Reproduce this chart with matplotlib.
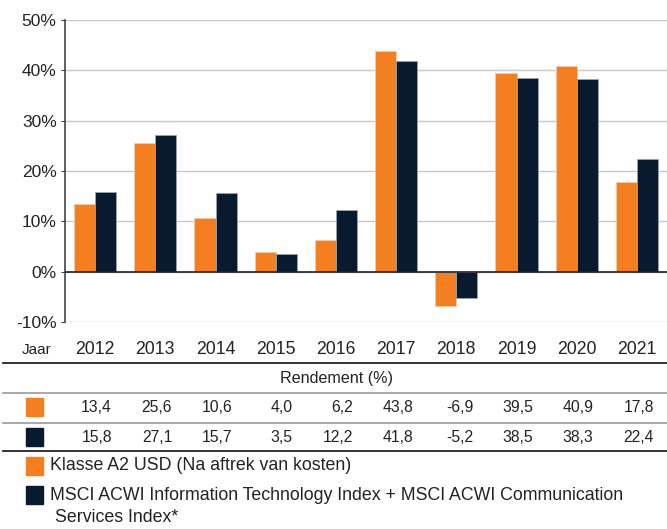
import numpy as np
import matplotlib.pyplot as plt
from matplotlib.transforms import blended_transform_factory
from matplotlib.lines import Line2D
from matplotlib.patches import Rectangle

plt.rcParams['font.family'] = ['Liberation Sans', 'DejaVu Sans']

# Gegevens
jaren = ['2012', '2013', '2014', '2015', '2016', '2017', '2018', '2019', '2020', '2021']
klasse_a2 = [13.4, 25.6, 10.6, 4.0, 6.2, 43.8, -6.9, 39.5, 40.9, 17.8]
msci_index = [15.8, 27.1, 15.7, 3.5, 12.2, 41.8, -5.2, 38.5, 38.3, 22.4]
y_ticks = [-10, 0, 10, 20, 30, 40, 50]
naam_a2 = 'Klasse A2 USD (Na aftrek van kosten)'
naam_msci = ['MSCI ACWI Information Technology Index + MSCI ACWI Communication',
             'Services Index*']

oranje = '#F47F20'
navy = '#0A1A2E'
W, H = 667, 529

fig = plt.figure(figsize=(W / 100, H / 100), dpi=100)
ax = fig.add_axes([65 / W, 1 - 322 / H, 602 / W, 302 / H])

x = np.arange(len(jaren))
bw = 0.35
ax.bar(x - bw / 2, klasse_a2, bw, color=oranje, edgecolor='#f9c9a0', linewidth=0.6, zorder=3)
ax.bar(x + bw / 2, msci_index, bw, color=navy, edgecolor='#9aa3ad', linewidth=0.6, zorder=3)

ax.set_xlim(-0.5, len(jaren) - 0.5)
ax.set_ylim(-10, 50)
ax.set_yticks(y_ticks)
ax.set_yticklabels([f'{v}%' for v in y_ticks], fontsize=12.5, color='#222222')
ax.set_xticks([])
ax.grid(axis='y', color='#c8c8c8', linewidth=1, zorder=0)
ax.axhline(0, color='#222222', linewidth=1.2, zorder=4)
for s in ['top', 'right', 'bottom']:
    ax.spines[s].set_visible(False)
ax.spines['left'].set_color('#444444')
ax.spines['left'].set_linewidth(1.2)
ax.tick_params(axis='y', length=3, color='#444444', pad=3)

# Tabel onder de grafiek
tr = blended_transform_factory(ax.transData, fig.transFigure)

def fy(py):
    return 1 - py / H

fig.text(22 / W, fy(350), 'Jaar', fontsize=11, color='#222222', va='center', ha='left')
for i, j in enumerate(jaren):
    ax.text(i, fy(350), j, transform=tr, fontsize=12.7, color='#222222', ha='center', va='center')

for py, kleur in [(363, '#111111'), (393, '#999999'), (423, '#999999'), (451, '#111111')]:
    fig.add_artist(Line2D([3 / W, 1], [fy(py), fy(py)], color=kleur, linewidth=1.2, transform=fig.transFigure))

fig.text(336 / W, fy(379), 'Rendement (%)', fontsize=11.6, color='#222222', ha='center', va='center')

for reeks, py, kleur in [(klasse_a2, 407, oranje), (msci_index, 437, navy)]:
    fig.add_artist(Rectangle((26 / W, fy(py + 9)), 17 / W, 18 / H, color=kleur, transform=fig.transFigure))
    for i, v in enumerate(reeks):
        ax.text(i + 0.28, fy(py), f'{v:.1f}'.replace('.', ','), transform=tr, fontsize=11.3,
                color='#222222', ha='right', va='center')

# Legenda
fig.add_artist(Rectangle((26 / W, fy(475)), 17 / W, 18 / H, color=oranje, transform=fig.transFigure))
fig.text(50 / W, fy(466), naam_a2, fontsize=12.8, color='#222222', ha='left', va='center')
fig.add_artist(Rectangle((26 / W, fy(504)), 17 / W, 18 / H, color=navy, transform=fig.transFigure))
fig.text(50 / W, fy(495), naam_msci[0], fontsize=12.8, color='#222222', ha='left', va='center')
fig.text(55 / W, fy(518), naam_msci[1], fontsize=12.8, color='#222222', ha='left', va='center')

fig.savefig('out.png', dpi=100)
